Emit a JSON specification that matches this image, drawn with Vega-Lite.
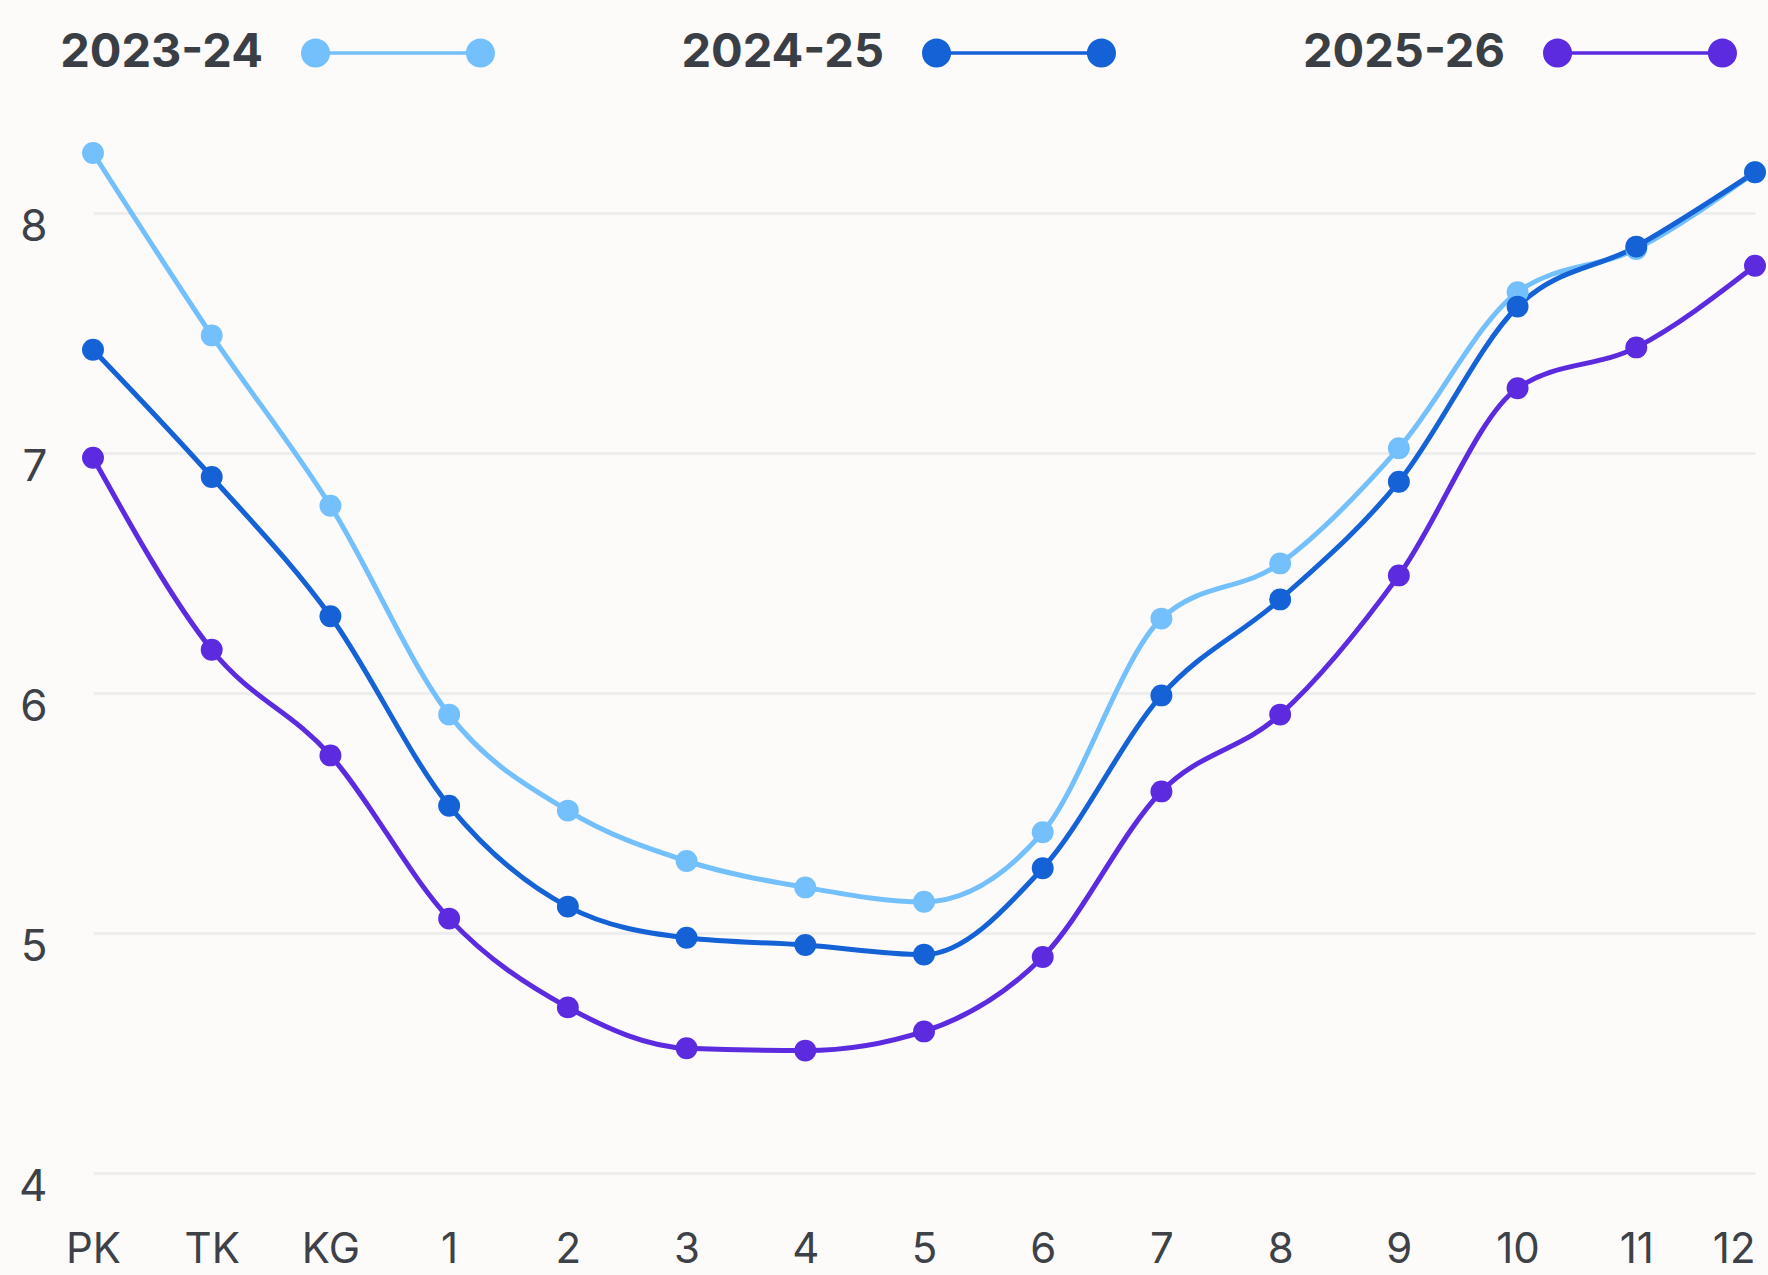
{
  "$schema": "https://vega.github.io/schema/vega-lite/v6.json",
  "width": 1662,
  "height": 1056,
  "autosize": {"type": "none"},
  "padding": {"left": 93, "top": 117, "right": 13, "bottom": 102},
  "background": "#fcfbf9",
  "config": {
    "view": {"stroke": null},
    "font": "Inter",
    "axis": {"labelFont": "Inter", "labelColor": "#3d4148"}
  },
  "data": {
    "values": [
      {"grade": "PK", "season": "2023-24", "v": 8.25},
      {"grade": "TK", "season": "2023-24", "v": 7.49},
      {"grade": "KG", "season": "2023-24", "v": 6.78},
      {"grade": "1", "season": "2023-24", "v": 5.91},
      {"grade": "2", "season": "2023-24", "v": 5.51},
      {"grade": "3", "season": "2023-24", "v": 5.30},
      {"grade": "4", "season": "2023-24", "v": 5.19},
      {"grade": "5", "season": "2023-24", "v": 5.13},
      {"grade": "6", "season": "2023-24", "v": 5.42},
      {"grade": "7", "season": "2023-24", "v": 6.31},
      {"grade": "8", "season": "2023-24", "v": 6.54},
      {"grade": "9", "season": "2023-24", "v": 7.02},
      {"grade": "10", "season": "2023-24", "v": 7.67},
      {"grade": "11", "season": "2023-24", "v": 7.85},
      {"grade": "12", "season": "2023-24", "v": 8.17},
      {"grade": "PK", "season": "2024-25", "v": 7.43},
      {"grade": "TK", "season": "2024-25", "v": 6.90},
      {"grade": "KG", "season": "2024-25", "v": 6.32},
      {"grade": "1", "season": "2024-25", "v": 5.53},
      {"grade": "2", "season": "2024-25", "v": 5.11},
      {"grade": "3", "season": "2024-25", "v": 4.98},
      {"grade": "4", "season": "2024-25", "v": 4.95},
      {"grade": "5", "season": "2024-25", "v": 4.91},
      {"grade": "6", "season": "2024-25", "v": 5.27},
      {"grade": "7", "season": "2024-25", "v": 5.99},
      {"grade": "8", "season": "2024-25", "v": 6.39},
      {"grade": "9", "season": "2024-25", "v": 6.88},
      {"grade": "10", "season": "2024-25", "v": 7.61},
      {"grade": "11", "season": "2024-25", "v": 7.86},
      {"grade": "12", "season": "2024-25", "v": 8.17},
      {"grade": "PK", "season": "2025-26", "v": 6.98},
      {"grade": "TK", "season": "2025-26", "v": 6.18},
      {"grade": "KG", "season": "2025-26", "v": 5.74},
      {"grade": "1", "season": "2025-26", "v": 5.06},
      {"grade": "2", "season": "2025-26", "v": 4.69},
      {"grade": "3", "season": "2025-26", "v": 4.52},
      {"grade": "4", "season": "2025-26", "v": 4.51},
      {"grade": "5", "season": "2025-26", "v": 4.59},
      {"grade": "6", "season": "2025-26", "v": 4.90},
      {"grade": "7", "season": "2025-26", "v": 5.59},
      {"grade": "8", "season": "2025-26", "v": 5.91},
      {"grade": "9", "season": "2025-26", "v": 6.49},
      {"grade": "10", "season": "2025-26", "v": 7.27},
      {"grade": "11", "season": "2025-26", "v": 7.44},
      {"grade": "12", "season": "2025-26", "v": 7.78}
    ]
  },
  "encoding": {
    "x": {
      "field": "grade",
      "type": "ordinal",
      "sort": ["PK", "TK", "KG", "1", "2", "3", "4", "5", "6", "7", "8", "9", "10", "11", "12"],
      "scale": {"type": "point", "padding": 0},
      "axis": {
        "title": null,
        "domain": false,
        "ticks": false,
        "grid": false,
        "labelAngle": 0,
        "labelFontSize": 42,
        "labelPadding": 56,
        "labelBaseline": "top",
        "labelAlign": {"condition": {"test": "datum.value === '12'", "value": "right"}, "value": "center"}
      }
    },
    "y": {
      "field": "v",
      "type": "quantitative",
      "scale": {"domain": [4, 8.4], "nice": false, "zero": false},
      "axis": {
        "title": null,
        "values": [4, 5, 6, 7, 8],
        "domain": false,
        "ticks": false,
        "grid": true,
        "gridColor": "#eeeeee",
        "gridWidth": 3,
        "labelFontSize": 44,
        "labelPadding": 46,
        "labelBaseline": "middle",
        "labelOffset": 14
      }
    },
    "color": {
      "field": "season",
      "type": "nominal",
      "scale": {"domain": ["2023-24", "2024-25", "2025-26"], "range": ["#74c0fc", "#1562d6", "#5c2be0"]},
      "legend": {
        "title": null,
        "orient": "none",
        "direction": "horizontal",
        "legendX": 208,
        "legendY": -161,
        "padding": 0,
        "symbolType": "M -0.85 -0.15 A 0.15 0.15 0 1 1 -0.85 0.15 A 0.15 0.15 0 1 1 -0.85 -0.15 Z M 0.85 -0.15 A 0.15 0.15 0 1 1 0.85 0.15 A 0.15 0.15 0 1 1 0.85 -0.15 Z M -0.85 -0.018 L 0.85 -0.018 L 0.85 0.018 L -0.85 0.018 Z",
        "symbolSize": 37636,
        "symbolStrokeWidth": 0,
        "symbolOpacity": 1,
        "labelFont": "Inter",
        "labelFontWeight": "bold",
        "labelFontSize": 47,
        "labelColor": "#3a3f46",
        "labelAlign": "right",
        "labelOffset": -232,
        "labelLimit": 400,
        "columnPadding": 186,
        "encode": {
          "symbols": {"update": {"fill": {"scale": "color", "field": "value"}, "stroke": {"value": "transparent"}, "opacity": {"value": 1}}}
        }
      }
    }
  },
  "layer": [
    {
      "mark": {"type": "line", "interpolate": "monotone", "strokeWidth": 5}
    },
    {
      "mark": {"type": "point", "filled": true, "opacity": 1, "size": 480, "shape": "circle"}
    }
  ]
}
